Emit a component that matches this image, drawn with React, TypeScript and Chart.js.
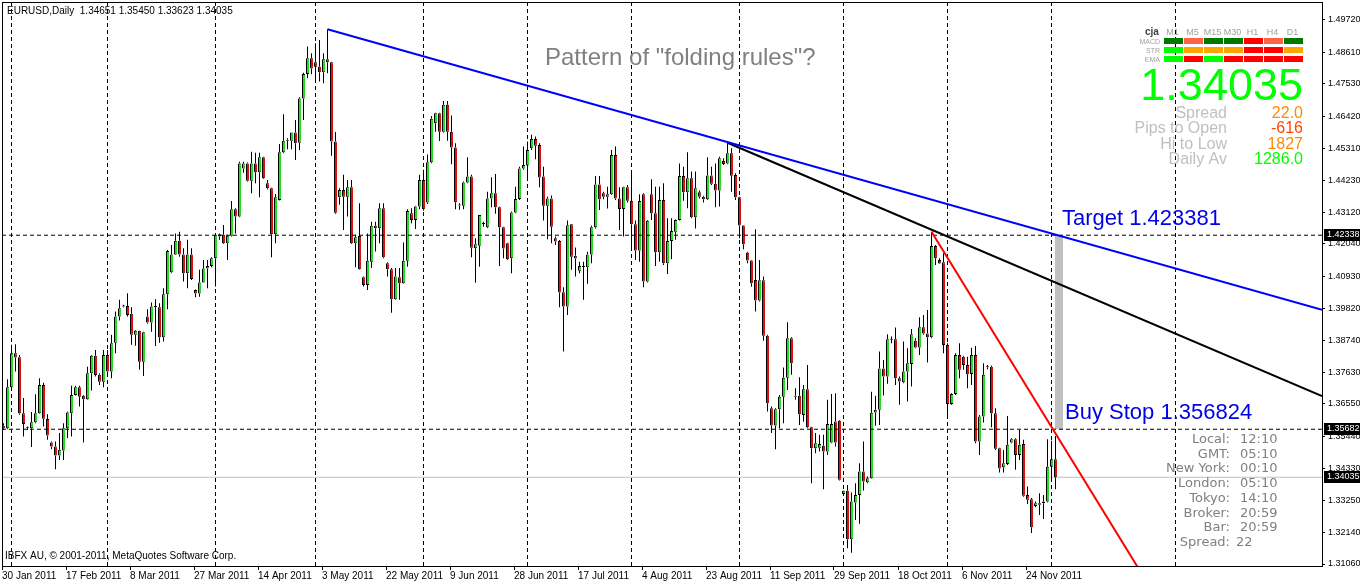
import React, { useEffect, useRef } from "react";
import { Chart, registerables } from "chart.js";

Chart.register(...registerables);

const symbolName = "EURUSD";
const periodName = "Daily";

const opens = [
  1.3580,1.3572,1.3712,1.3829,1.3815,1.3623,1.3572,1.3572,1.3592,1.3623,
  1.3720,1.3603,1.3523,1.3509,1.3478,1.3495,1.3572,1.3623,1.3686,1.3712,
  1.3683,1.3671,1.3760,1.3820,1.3755,1.3731,1.3823,1.3766,1.3865,1.3955,
  1.3989,1.3991,1.3964,1.3892,1.3906,1.3800,1.3955,1.3934,1.3987,1.3987,
  1.3884,1.4031,1.4107,1.4168,1.4215,1.4168,1.4103,1.4168,1.4046,1.4034,
  1.4072,1.4120,1.4128,1.4155,1.4229,1.4235,1.4206,1.4232,1.4323,1.4298,
  1.4463,1.4480,1.4421,1.4480,1.4450,1.4501,1.4412,1.4395,1.4237,1.4355,
  1.4518,1.4558,1.4558,1.4586,1.4551,1.4703,1.4787,1.4841,1.4827,1.4812,
  1.4793,1.4837,1.4827,1.4555,1.4364,1.4389,1.4366,1.4398,1.4206,1.4231,
  1.4090,1.4063,1.4143,1.4266,1.4258,1.4326,1.4138,1.4117,1.4014,1.4090,
  1.4069,1.4146,1.4309,1.4286,1.4332,1.4423,1.4346,1.4484,1.4618,1.4652,
  1.4589,1.4681,1.4589,1.4535,1.4336,1.4335,1.4415,1.4435,1.4189,1.4198,
  1.4272,1.4261,1.4360,1.4378,1.4330,1.4261,1.4206,1.4155,1.4312,1.4358,
  1.4463,1.4473,1.4532,1.4564,1.4543,1.4435,1.4335,1.4360,1.4223,1.4214,
  1.4038,1.3989,1.4271,1.4163,1.4112,1.4125,1.4124,1.4168,1.4261,1.4408,
  1.4378,1.4366,1.4374,1.4509,1.4360,1.4324,1.4398,1.4352,1.4271,1.4181,
  1.4374,1.4075,1.4374,1.4309,1.4175,1.4355,1.4138,1.4214,1.4246,1.4286,
  1.4437,1.4381,1.4429,1.4295,1.4381,1.4366,1.4357,1.4439,1.4410,1.4387,
  1.4488,1.4480,1.4515,1.4440,1.4364,1.4267,1.4174,1.4147,1.4080,1.4010,
  1.4079,1.3889,1.3640,1.3581,1.3637,1.3680,1.3745,1.3880,1.3680,1.3683,
  1.3617,1.3705,1.3575,1.3503,1.3505,1.3512,1.3492,1.3523,1.3595,1.3597,
  1.3346,1.3357,1.3191,1.3317,1.3343,1.3423,1.3386,1.3400,1.3626,1.3635,
  1.3777,1.3749,1.3875,1.3877,1.3743,1.3729,1.3766,1.3792,1.3872,1.3849,
  1.3918,1.3897,1.3884,1.4197,1.4149,1.4141,1.3857,1.3655,1.3689,1.3823,
  1.3817,1.3789,1.3758,1.3823,1.3526,1.3612,1.3781,1.3783,1.3623,1.3503,
  1.3438,1.3449,1.3523,1.3534,1.3480,1.3518,1.3343,1.3328,1.3305,1.3309,
  1.3314,1.3320,1.3440,1.34651,
];

const highs = [
  1.3589,1.3740,1.3858,1.3860,1.3823,1.3675,1.3578,1.3627,1.3688,1.3743,
  1.3728,1.3620,1.3526,1.3526,1.3555,1.3589,1.3629,1.3717,1.3717,1.3717,
  1.3686,1.3783,1.3823,1.3840,1.3760,1.3840,1.3840,1.3892,1.3972,1.4012,
  1.3995,1.4035,1.3987,1.3909,1.3907,1.3903,1.3980,1.4003,1.4014,1.4000,
  1.4052,1.4183,1.4200,1.4240,1.4246,1.4189,1.4218,1.4189,1.4048,1.4115,
  1.4149,1.4149,1.4158,1.4238,1.4240,1.4269,1.4235,1.4351,1.4326,1.4486,
  1.4486,1.4483,1.4520,1.4517,1.4517,1.4503,1.4423,1.4397,1.4375,1.4547,
  1.4649,1.4566,1.4586,1.4629,1.4707,1.4791,1.4881,1.4858,1.4892,1.4903,
  1.4858,1.4940,1.4829,1.4588,1.4395,1.4441,1.4423,1.4423,1.4235,1.4343,
  1.4092,1.4240,1.4280,1.4280,1.4343,1.4343,1.4141,1.4121,1.4121,1.4121,
  1.4209,1.4323,1.4326,1.4334,1.4441,1.4458,1.4511,1.4643,1.4654,1.4654,
  1.4694,1.4694,1.4644,1.4549,1.4343,1.4418,1.4501,1.4441,1.4223,1.4303,
  1.4280,1.4383,1.4433,1.4444,1.4332,1.4263,1.4208,1.4315,1.4400,1.4469,
  1.4538,1.4555,1.4578,1.4572,1.4549,1.4469,1.4366,1.4370,1.4229,1.4217,
  1.4055,1.4284,1.4272,1.4192,1.4143,1.4143,1.4177,1.4266,1.4437,1.4437,
  1.4383,1.4400,1.4526,1.4538,1.4398,1.4400,1.4406,1.4452,1.4284,1.4374,
  1.4378,1.4286,1.4426,1.4400,1.4400,1.4412,1.4292,1.4292,1.4288,1.4480,
  1.4469,1.4518,1.4452,1.4452,1.4387,1.4369,1.4501,1.4469,1.4480,1.4503,
  1.4498,1.4551,1.4532,1.4446,1.4366,1.4269,1.4177,1.4149,1.4254,1.4149,
  1.4092,1.3892,1.3646,1.3640,1.3686,1.3780,1.3935,1.3884,1.3709,1.3747,
  1.3720,1.3789,1.3577,1.3555,1.3549,1.3549,1.3669,1.3689,1.3692,1.3600,
  1.3358,1.3377,1.3351,1.3383,1.3452,1.3526,1.3406,1.3697,1.3683,1.3835,
  1.3806,1.3894,1.3886,1.3917,1.3749,1.3869,1.3846,1.3912,1.3880,1.3952,
  1.3960,1.3977,1.4246,1.4200,1.4155,1.4172,1.3863,1.3692,1.3829,1.3863,
  1.3820,1.3817,1.3848,1.3854,1.3617,1.3795,1.3789,1.3787,1.3640,1.3505,
  1.3497,1.3614,1.3537,1.3537,1.3566,1.3532,1.3372,1.3332,1.3320,1.3349,
  1.3343,1.3534,1.3529,1.35450,
];

const lows = [
  1.3566,1.3568,1.3709,1.3766,1.3618,1.3543,1.3566,1.3507,1.3589,1.3621,
  1.3578,1.3532,1.3500,1.3431,1.3463,1.3463,1.3538,1.3543,1.3684,1.3646,
  1.3523,1.3669,1.3701,1.3749,1.3720,1.3712,1.3755,1.3743,1.3829,1.3941,
  1.3987,1.3955,1.3858,1.3855,1.3772,1.3751,1.3930,1.3903,1.3854,1.3865,
  1.3869,1.3980,1.4103,1.4166,1.4160,1.4075,1.4052,1.4080,1.4021,1.4023,
  1.4071,1.4052,1.4124,1.4058,1.4218,1.4204,1.4149,1.4229,1.4240,1.4295,
  1.4448,1.4418,1.4378,1.4412,1.4364,1.4427,1.4391,1.4158,1.4206,1.4353,
  1.4515,1.4529,1.4529,1.4492,1.4526,1.4629,1.4772,1.4786,1.4761,1.4761,
  1.4755,1.4789,1.4506,1.4307,1.4338,1.4252,1.4298,1.4204,1.4124,1.4115,
  1.4058,1.4046,1.4121,1.4178,1.4206,1.4155,1.4092,1.3968,1.4012,1.4012,
  1.4067,1.4126,1.4275,1.4255,1.4323,1.4318,1.4341,1.4481,1.4589,1.4557,
  1.4586,1.4558,1.4477,1.4323,1.4321,1.4323,1.4412,1.4158,1.4071,1.4126,
  1.4263,1.4258,1.4330,1.4307,1.4128,1.4155,1.4149,1.4103,1.4309,1.4355,
  1.4458,1.4429,1.4526,1.4494,1.4398,1.4284,1.4220,1.4206,1.4200,1.3987,
  1.3835,1.3960,1.4115,1.4092,1.4103,1.4012,1.4067,1.4138,1.4257,1.4320,
  1.4357,1.4325,1.4372,1.4355,1.4252,1.4229,1.4346,1.4181,1.4149,1.4143,
  1.4055,1.4072,1.4286,1.4128,1.4143,1.4132,1.4101,1.4151,1.4218,1.4284,
  1.4352,1.4326,1.4292,1.4257,1.4360,1.4346,1.4355,1.4406,1.4330,1.4332,
  1.4475,1.4477,1.4383,1.4355,1.4223,1.4186,1.4138,1.4057,1.3972,1.4006,
  1.3872,1.3629,1.3555,1.3500,1.3572,1.3589,1.3703,1.3755,1.3669,1.3583,
  1.3594,1.3572,1.3383,1.3486,1.3492,1.3362,1.3480,1.3520,1.3509,1.3392,
  1.3343,1.3160,1.3145,1.3257,1.3244,1.3358,1.3383,1.3398,1.3580,1.3583,
  1.3684,1.3724,1.3863,1.3720,1.3652,1.3726,1.3663,1.3715,1.3846,1.3823,
  1.3892,1.3797,1.3880,1.4132,1.4135,1.3829,1.3606,1.3652,1.3686,1.3743,
  1.3772,1.3709,1.3720,1.3520,1.3480,1.3591,1.3774,1.3575,1.3497,1.3420,
  1.3420,1.3446,1.3520,1.3429,1.3463,1.3337,1.3312,1.3212,1.3301,1.3274,
  1.3260,1.3317,1.3400,1.33623,
];

const closes = [
  1.3572,1.3712,1.3829,1.3814,1.3623,1.3586,1.3573,1.3592,1.3623,1.3720,
  1.3604,1.3547,1.3509,1.3478,1.3498,1.3572,1.3626,1.3686,1.3712,1.3680,
  1.3671,1.3760,1.3820,1.3754,1.3731,1.3823,1.3766,1.3863,1.3955,1.3983,
  1.3991,1.3960,1.3892,1.3906,1.3800,1.3901,1.3934,1.3989,1.3991,1.3884,
  1.4031,1.4180,1.4168,1.4215,1.4168,1.4103,1.4168,1.4084,1.4034,1.4072,
  1.4120,1.4128,1.4155,1.4235,1.4237,1.4206,1.4232,1.4323,1.4298,1.4480,
  1.4480,1.4421,1.4480,1.4450,1.4501,1.4429,1.4395,1.4237,1.4364,1.4518,
  1.4558,1.4561,1.4586,1.4549,1.4703,1.4787,1.4841,1.4806,1.4812,1.4793,
  1.4837,1.4827,1.4555,1.4311,1.4389,1.4366,1.4398,1.4206,1.4227,1.4117,
  1.4063,1.4146,1.4266,1.4258,1.4326,1.4158,1.4117,1.4014,1.4092,1.4069,
  1.4146,1.4317,1.4286,1.4332,1.4423,1.4323,1.4484,1.4633,1.4652,1.4589,
  1.4681,1.4589,1.4535,1.4347,1.4338,1.4415,1.4435,1.4191,1.4203,1.4303,
  1.4275,1.4360,1.4378,1.4330,1.4261,1.4188,1.4151,1.4312,1.4358,1.4463,
  1.4475,1.4526,1.4564,1.4541,1.4432,1.4335,1.4360,1.4263,1.4212,1.4037,
  1.3989,1.4268,1.4160,1.4154,1.4128,1.4127,1.4168,1.4261,1.4408,1.4357,
  1.4366,1.4374,1.4509,1.4360,1.4324,1.4398,1.4352,1.4271,1.4181,1.4351,
  1.4075,1.4283,1.4309,1.4175,1.4355,1.4138,1.4214,1.4248,1.4286,1.4437,
  1.4381,1.4429,1.4295,1.4395,1.4366,1.4357,1.4439,1.4410,1.4387,1.4498,
  1.4478,1.4515,1.4438,1.4364,1.4267,1.4203,1.4147,1.4069,1.4010,1.4079,
  1.3889,1.3657,1.3581,1.3637,1.3680,1.3745,1.3880,1.3795,1.3683,1.3620,
  1.3705,1.3575,1.3503,1.3520,1.3518,1.3492,1.3586,1.3586,1.3523,1.3395,
  1.3357,1.3191,1.3320,1.3343,1.3423,1.3389,1.3400,1.3625,1.3635,1.3777,
  1.3749,1.3877,1.3877,1.3743,1.3732,1.3766,1.3795,1.3894,1.3849,1.3918,
  1.3897,1.3884,1.4197,1.4155,1.4137,1.3857,1.3655,1.3689,1.3823,1.3772,
  1.3789,1.3757,1.3823,1.3526,1.3612,1.3755,1.3783,1.3623,1.3501,1.3434,
  1.3452,1.3515,1.3534,1.3480,1.3515,1.3340,1.3326,1.3232,1.3314,1.3314,
  1.3320,1.3440,1.3465,1.34035,
];

const xTickLabels = [
  "30 Jan 2011", "17 Feb 2011", "8 Mar 2011", "27 Mar 2011", "14 Apr 2011",
  "3 May 2011", "22 May 2011", "9 Jun 2011", "28 Jun 2011", "17 Jul 2011",
  "4 Aug 2011", "23 Aug 2011", "11 Sep 2011", "29 Sep 2011", "18 Oct 2011",
  "6 Nov 2011", "24 Nov 2011",
];
const barsPerLabel = 16;

const yTicks = [
  1.4972, 1.4861, 1.4753, 1.4642, 1.4531, 1.4423, 1.4312, 1.4204, 1.4093,
  1.3982, 1.3874, 1.3763, 1.3655, 1.3544, 1.3433, 1.3325, 1.3214, 1.3106,
];

const monthStartBars = [2, 26, 53, 78, 105, 131, 157, 184, 210, 236, 262, 293];

const blueTrend = [[81, 1.4940], [329.625, 1.39783]];
const blackTrend = [[181, 1.4551], [329.625, 1.36823]];
const redTrend = [[232, 1.4246], [300, 1.2728]];

const targetLevel = 1.423381;
const buyStopLevel = 1.356824;
const bidLevel = 1.34035;
const grayMarkBar = 263.875;

const panelFrames = ["M1", "M5", "M15", "M30", "H1", "H4", "D1"];
const panelRows = ["MACD", "STR", "EMA"];
const panelColors = [
  ["#007800", "#ff6347", "#007800", "#007800", "#ff0000", "#ff6347", "#007800"],
  ["#00ff00", "#ffa500", "#ffa500", "#ffa500", "#ff0000", "#ff0000", "#ffa500"],
  ["#00ff00", "#ff0000", "#00ff00", "#ff0000", "#ff0000", "#ff0000", "#ff0000"],
];
const statLabels = ["Spread", "Pips to Open", "Hi to Low", "Daily Av"];
const statValues = ["22.0", "-616", "1827", "1286.0"];
const statColors = ["#ff8c00", "#ff4500", "#ff8c00", "#00ff00"];
const clockLabels = ["Local:", "GMT:", "New York:", "London:", "Tokyo:", "Broker:", "Bar:", "Spread:"];
const clockValues = ["12:10", "05:10", "00:10", "05:10", "14:10", "20:59", "20:59", "22"];

const X_MIN = -0.375;
const X_MAX = 329.625;
const Y_MIN = 1.309914;
const Y_MAX = 1.503374;

const UP = "#22dd22";
const DOWN = "#e01010";
const FONT = '"Liberation Sans", Arial, sans-serif';

export default function App() {
  const ref = useRef<HTMLCanvasElement>(null);

  useEffect(() => {
    const canvas = ref.current;
    if (!canvas) return;
    const idx = opens.map((_, i) => i);
    const bodyData = idx.map((i) => ({ x: i, y: [opens[i], closes[i]] }));
    const upperWick = idx.map((i) => ({ x: i, y: [Math.max(opens[i], closes[i]), highs[i]] }));
    const lowerWick = idx.map((i) => ({ x: i, y: [lows[i], Math.min(opens[i], closes[i])] }));
    const bodyColors = idx.map((i) => (closes[i] >= opens[i] ? UP : DOWN));
    const last = opens.length - 1;

    const toXY = (arr: number[][]) => arr.map((p) => ({ x: p[0], y: p[1] }));

    const overlay = {
      id: "mtOverlay",
      beforeDatasetsDraw(chart: any) {
        const { ctx, chartArea: a } = chart;
        const xs = chart.scales.x;
        ctx.save();
        ctx.beginPath();
        ctx.rect(a.left, a.top, a.right - a.left, a.bottom - a.top);
        ctx.clip();
        ctx.strokeStyle = "#000";
        ctx.lineWidth = 1;
        ctx.setLineDash([4, 3]);
        ctx.beginPath();
        for (const b of monthStartBars) {
          const px = Math.floor(xs.getPixelForValue(b)) + 0.5;
          ctx.moveTo(px, a.top);
          ctx.lineTo(px, a.bottom);
        }
        ctx.stroke();
        ctx.restore();
      },
      afterDraw(chart: any) {
        const { ctx, chartArea: a } = chart;
        const ys = chart.scales.y;
        ctx.save();
        ctx.strokeStyle = "#000";
        ctx.lineWidth = 1;
        ctx.setLineDash([]);
        ctx.strokeRect(Math.floor(a.left) + 0.5, Math.floor(a.top) + 0.5, Math.round(a.right - a.left), Math.round(a.bottom - a.top));

        ctx.fillStyle = "#000";
        ctx.font = "10px " + FONT;
        ctx.textAlign = "left";
        ctx.textBaseline = "alphabetic";
        ctx.fillText(
          `${symbolName},${periodName}  ${opens[last].toFixed(5)} ${highs[last].toFixed(5)} ${lows[last].toFixed(5)} ${closes[last].toFixed(5)}`,
          7, 14
        );
        ctx.fillText("IBFX AU, \u00A9 2001-2011, MetaQuotes Software Corp.", 5, 559);

        ctx.fillStyle = "#808080";
        ctx.font = "24px " + FONT;
        ctx.fillText('Pattern of "folding rules"?', 545, 65);

        ctx.fillStyle = "#0000e6";
        ctx.font = "22px " + FONT;
        ctx.fillText(`Target ${targetLevel.toFixed(6)}`, 1062, ys.getPixelForValue(targetLevel) - 10);
        ctx.fillText(`Buy Stop ${buyStopLevel.toFixed(6)}`, 1065, ys.getPixelForValue(buyStopLevel) - 10);

        ctx.font = "bold 10px " + FONT;
        ctx.fillStyle = "#404040";
        ctx.fillText("cja", 1145, 35);
        ctx.font = "9px " + FONT;
        ctx.fillStyle = "#a0a0a0";
        ctx.textAlign = "center";
        panelFrames.forEach((f, k) => ctx.fillText(f, 1172.5 + 20 * k, 35));
        ctx.font = "7px " + FONT;
        ctx.textAlign = "right";
        panelRows.forEach((r, j) => ctx.fillText(r, 1160, 44 + 9 * j));
        panelColors.forEach((row, j) =>
          row.forEach((c, k) => {
            ctx.fillStyle = c;
            ctx.fillRect(1164 + 20 * k, 38 + 9 * j, 19, 6);
          })
        );
        ctx.fillStyle = "#00ff00";
        ctx.font = "45px " + FONT;
        ctx.textAlign = "right";
        ctx.fillText(closes[last].toFixed(5), 1303, 100);
        ctx.font = "16px " + FONT;
        statLabels.forEach((s, j) => {
          ctx.fillStyle = "#c0c0c0";
          ctx.textAlign = "right";
          ctx.fillText(s, 1227, 118 + 15.3 * j);
          ctx.fillStyle = statColors[j];
          ctx.fillText(statValues[j], 1303, 118 + 15.3 * j);
        });

        ctx.font = '13px "DejaVu Sans", sans-serif';
        ctx.fillStyle = "#808080";
        clockLabels.forEach((s, j) => {
          ctx.textAlign = "right";
          ctx.fillText(s, 1230, 443 + 14.7 * j);
          ctx.textAlign = "left";
          ctx.fillText(clockValues[j], j === clockLabels.length - 1 ? 1236 : 1240, 443 + 14.7 * j);
        });

        ctx.font = "9px " + FONT;
        ctx.textAlign = "left";
        ctx.textBaseline = "middle";
        for (const v of [targetLevel, buyStopLevel, bidLevel]) {
          const y = Math.round(ys.getPixelForValue(v));
          ctx.fillStyle = "#000";
          ctx.fillRect(1324, y - 6, 36, 12);
          ctx.fillStyle = "#fff";
          ctx.fillText(v.toFixed(5), 1327, y);
        }
        ctx.restore();
      },
    };

    const barCommon = { grouped: false, inflateAmount: 0, borderSkipped: false };

    const chart = new Chart(canvas, {
      type: "bar",
      data: {
        datasets: [
          { type: "line", data: toXY(blueTrend), borderColor: "#0000ff", borderWidth: 2, pointRadius: 0, order: 0 } as any,
          { type: "line", data: toXY(blackTrend), borderColor: "#000000", borderWidth: 2, pointRadius: 0, order: 0 } as any,
          { type: "line", data: toXY(redTrend), borderColor: "#ff0000", borderWidth: 2, pointRadius: 0, order: 0 } as any,
          { type: "line", data: [{ x: X_MIN, y: targetLevel }, { x: X_MAX, y: targetLevel }], borderColor: "#000", borderWidth: 1, borderDash: [4, 3], pointRadius: 0, order: 0 } as any,
          { type: "line", data: [{ x: X_MIN, y: buyStopLevel }, { x: X_MAX, y: buyStopLevel }], borderColor: "#000", borderWidth: 1, borderDash: [4, 3], pointRadius: 0, order: 0 } as any,
          { type: "bar", data: bodyData, backgroundColor: bodyColors, borderColor: "#000", borderWidth: { top: 1, bottom: 1, left: 1, right: 0 }, barThickness: 3, maxBarThickness: 3, order: 2, minBarLength: 1, ...barCommon } as any,
          { type: "bar", data: upperWick, backgroundColor: "#000", borderWidth: 0, barThickness: 1, maxBarThickness: 1, order: 3, ...barCommon } as any,
          { type: "bar", data: lowerWick, backgroundColor: "#000", borderWidth: 0, barThickness: 1, maxBarThickness: 1, order: 3, ...barCommon } as any,
          { type: "bar", data: [{ x: grayMarkBar, y: [buyStopLevel, targetLevel] }], backgroundColor: "#c0c0c0", borderWidth: 0, barThickness: 8, maxBarThickness: 8, order: 4, ...barCommon } as any,
          { type: "line", data: [{ x: X_MIN, y: bidLevel }, { x: X_MAX, y: bidLevel }], borderColor: "#c0c0c0", borderWidth: 1, pointRadius: 0, order: 5 } as any,
        ],
      },
      options: {
        responsive: false,
        animation: false,
        devicePixelRatio: 1,
        events: [],
        layout: { padding: { left: 2, top: 2, right: 0, bottom: 0 } },
        plugins: { legend: { display: false }, tooltip: { enabled: false } },
        scales: {
          x: {
            type: "linear",
            min: X_MIN,
            max: X_MAX,
            offset: false,
            grid: { display: true, drawOnChartArea: false, drawTicks: true, tickLength: 4, color: "#000", offset: false },
            border: { display: true, color: "#000", width: 1 },
            ticks: {
              autoSkip: false,
              maxRotation: 0,
              minRotation: 0,
              align: "start",
              padding: 0,
              color: "#000",
              font: { family: FONT, size: 10 },
              callback: (_v: any, i: number) => xTickLabels[i] ?? "",
            },
            afterBuildTicks: (s: any) => {
              s.ticks = xTickLabels.map((_, k) => ({ value: X_MIN + barsPerLabel * k }));
            },
            afterFit: (s: any) => {
              s.height = 17;
              s.paddingLeft = 0;
              s.paddingRight = 0;
            },
          } as any,
          y: {
            type: "linear",
            position: "right",
            min: Y_MIN,
            max: Y_MAX,
            beginAtZero: false,
            stacked: false,
            grid: { drawOnChartArea: false, drawTicks: true, tickLength: 3, color: "#000" },
            border: { display: true, color: "#000", width: 1 },
            ticks: {
              padding: 3,
              color: "#000",
              font: { family: FONT, size: 9 },
              callback: (v: any) => Number(v).toFixed(5),
            },
            afterBuildTicks: (s: any) => {
              s.ticks = yTicks.slice().reverse().map((v) => ({ value: v }));
            },
            afterFit: (s: any) => {
              s.width = 38;
              s.paddingTop = 0;
              s.paddingBottom = 0;
            },
          } as any,
        },
      } as any,
      plugins: [overlay],
    } as any);

    return () => chart.destroy();
  }, []);

  return (
    <div style={{ position: "absolute", left: 0, top: 0, width: 1360, height: 583, background: "#fff" }}>
      <canvas ref={ref} width={1360} height={583} style={{ display: "block", width: 1360, height: 583 }} />
    </div>
  );
}
